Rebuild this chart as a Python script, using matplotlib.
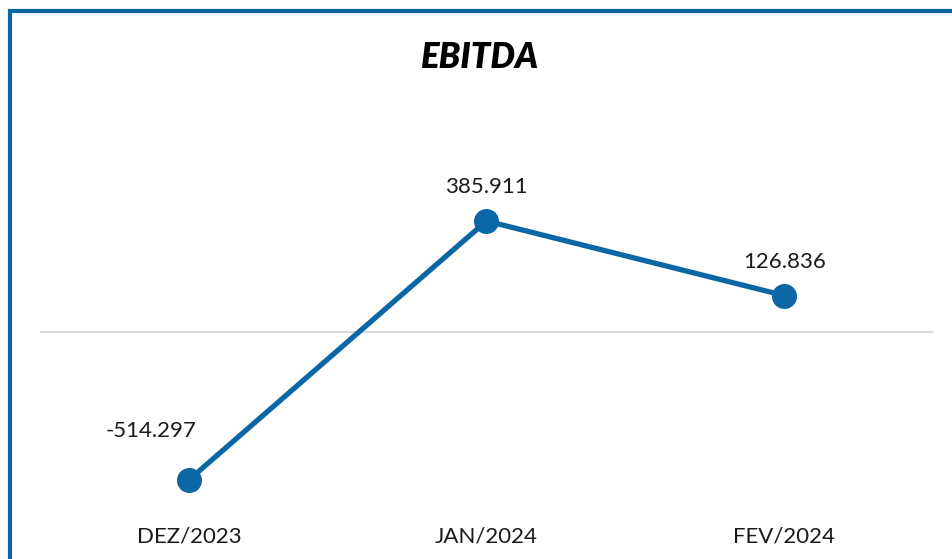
import matplotlib.pyplot as plt
from matplotlib.patches import Rectangle

# dados
meses = ['DEZ/2023', 'JAN/2024', 'FEV/2024']
ebitda = [-514.297, 385.911, 126.836]
rotulos = ['-514.297', '385.911', '126.836']

azul = '#0B66A6'
plt.rcParams['font.family'] = ['Lato', 'DejaVu Sans']

fig = plt.figure(figsize=(9.52, 5.59), dpi=100)
ax = fig.add_axes([40 / 952, 59 / 559, 893 / 952, 380 / 559])

x = list(range(len(meses)))
ax.axhline(0, color='#D9D9D9', lw=1.5, zorder=1)
ax.plot(x, ebitda, color=azul, lw=3.8, marker='o', markersize=17, zorder=3)

# rotulos de dados
offsets = [(-27, 28), (0, 17), (0, 17)]
for xi, v, t, (dx, dy) in zip(x, ebitda, rotulos, offsets):
    ax.annotate(t, (xi, v), xytext=(dx, dy), textcoords='offset points',
                ha='center', va='bottom', fontsize=16, color='#1a1a1a')

ax.set_xlim(-0.5, 2.5)
ax.set_ylim(-584, 737)
ax.set_xticks(x)
ax.set_xticklabels(meses, fontsize=16, color='#1a1a1a')
ax.tick_params(axis='x', length=0, pad=19)
ax.set_yticks([])
for s in ax.spines.values():
    s.set_visible(False)

fig.text(479 / 952, 1 - 57 / 559, 'EBITDA', ha='center', va='center',
         fontsize=25, fontweight='heavy', fontstyle='italic')

# moldura
fig.patches.append(Rectangle((9.5 / 952, -0.1), 1.2, 1 - 11 / 559 + 0.1,
                             transform=fig.transFigure, fill=False,
                             edgecolor=azul, lw=3))

fig.savefig('out.png', dpi=100)
